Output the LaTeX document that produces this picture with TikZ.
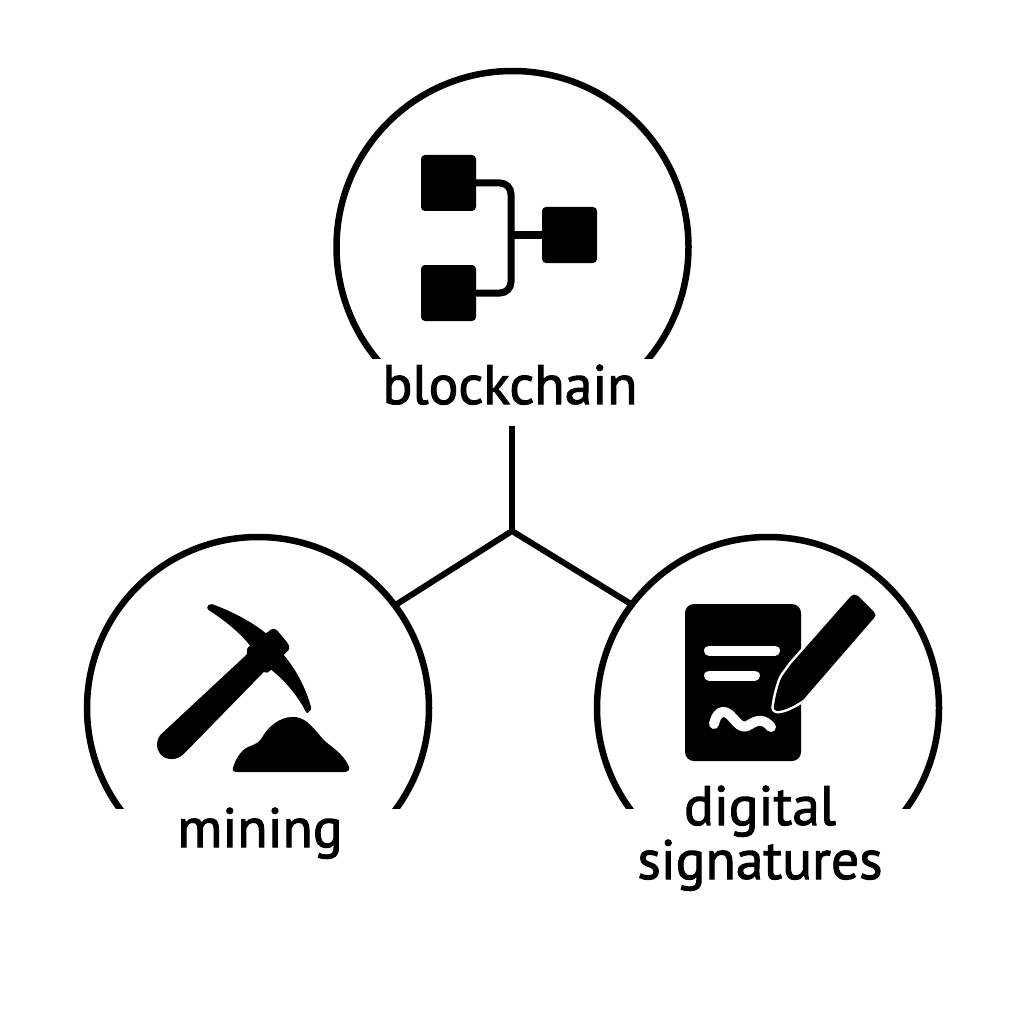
\documentclass[tikz,border=0pt]{standalone}
\usepackage{fontspec}
\setmainfont{PT Sans}[FakeBold=1.8]
\tikzset{
  ring/.style={draw=black,line width=6.5pt},
  link/.style={draw=black,line width=6pt},
  blockbox/.style={draw=none,fill=black,rounded corners=4pt,minimum width=55pt,minimum height=56pt,inner sep=0pt},
  wire/.style={draw=black,line width=7pt,rounded corners=11pt},
  label/.style={font=\fontsize{55.5pt}{54pt}\selectfont,align=center,text=black,inner sep=0pt},
  inkwhite/.style={draw=white,line width=10pt,line cap=round,line join=round},
}
\begin{document}
\begin{tikzpicture}[x=1pt,y=-1pt]
\useasboundingbox (0,0) rectangle (1024,1024);
\fill[white] (0,0) rectangle (1024,1024);
% rings
\begin{scope}
\clip (0,0) rectangle (1024,358);
\draw[ring] (512.5,247) circle[radius=176pt];
\end{scope}
\begin{scope}
\clip (0,0) rectangle (1024,808);
\draw[ring] (258,708) circle[radius=171pt];
\draw[ring] (768,708) circle[radius=171pt];
\end{scope}
% labels
\node[label,anchor=base] (lblock) at (510,404) {blockchain};
\node[label,anchor=base] (lmine) at (260,847) {mining};
\node[label,anchor=base] (lsig) at (760,879) {digital\\signatures};
% connectors
\coordinate (top) at (512,426);
\coordinate (hub) at (512,531);
\coordinate (cl) at (397,604);
\coordinate (cr) at (631,604);
\draw[link] (top) -- (hub);
\draw[link,line join=round] (cl) -- (hub) -- (cr);
% blockchain icon
\node[blockbox] (ba) at (448.5,183) {};
\node[blockbox] (bb) at (448.5,293) {};
\node[blockbox] (bc) at (569.5,235) {};
\coordinate (bus) at (511,235);
\draw[wire] (ba.east) -| (bus) |- (bb.east);
\draw[draw=black,line width=7pt] (bus) -- (bc.west);
% pickaxe
\fill[black,draw=black,line width=1pt,line join=round,rounded corners=1pt]
  (208,609) .. controls (207,606) and (210,604) .. (213,605)
  .. controls (232,612) and (251,622) .. (266,634)
  -- (270,631) .. controls (272,629) and (275,629) .. (277,631)
  -- (287,643) .. controls (289,646) and (289,648) .. (288,650)
  -- (283,655)
  .. controls (296,670) and (306,690) .. (311,709)
  -- (307,713)
  .. controls (298,695) and (285,680) .. (271,669)
  .. controls (268,672) and (266,673) .. (264,671)
  -- (184,753)
  .. controls (177,760) and (167,760) .. (161,754)
  .. controls (156,748) and (157,740) .. (161,735)
  -- (248,654) .. controls (247,651) and (247,648) .. (251,646)
  .. controls (240,632) and (225,620) .. (208,609) -- cycle;
% heap
\fill[black]
  (233,768) .. controls (235,760) and (241,750) .. (248,747)
  .. controls (256,744) and (260,742) .. (263,736)
  .. controls (268,727) and (280,717) .. (292,717)
  .. controls (304,716) and (312,726) .. (322,738)
  .. controls (330,747) and (343,752) .. (349,767)
  .. controls (350,770) and (348,772) .. (344,772)
  -- (238,772) .. controls (234,772) and (232,771) .. (233,768) -- cycle;
% document
\fill[black,rounded corners=9pt] (685,604) rectangle (801,761);
\draw[inkwhite] (709,650.5) -- (775,650.5);
\draw[inkwhite] (709,675.5) -- (755,675.5);
\draw[inkwhite] (714,724) .. controls (716,714) and (722,708) .. (730,715)
  .. controls (737,722) and (741,730) .. (749,725)
  .. controls (757,720) and (763,718) .. (771,727);
% pen
\fill[black,preaction={draw=white,line width=5pt,line join=round},line join=round]
  (851,596) .. controls (853,594) and (856,594) .. (858,596)
  -- (874,612) .. controls (876,614) and (876,616) .. (874,618)
  -- (803,700)
  .. controls (795,705) and (787,710) .. (778,711)
  .. controls (775,711) and (773,709) .. (774,706)
  .. controls (775,698) and (777,690) .. (780,681)
  .. controls (782,675) and (787,670) .. (791,664) -- cycle;
\end{tikzpicture}
\end{document}
